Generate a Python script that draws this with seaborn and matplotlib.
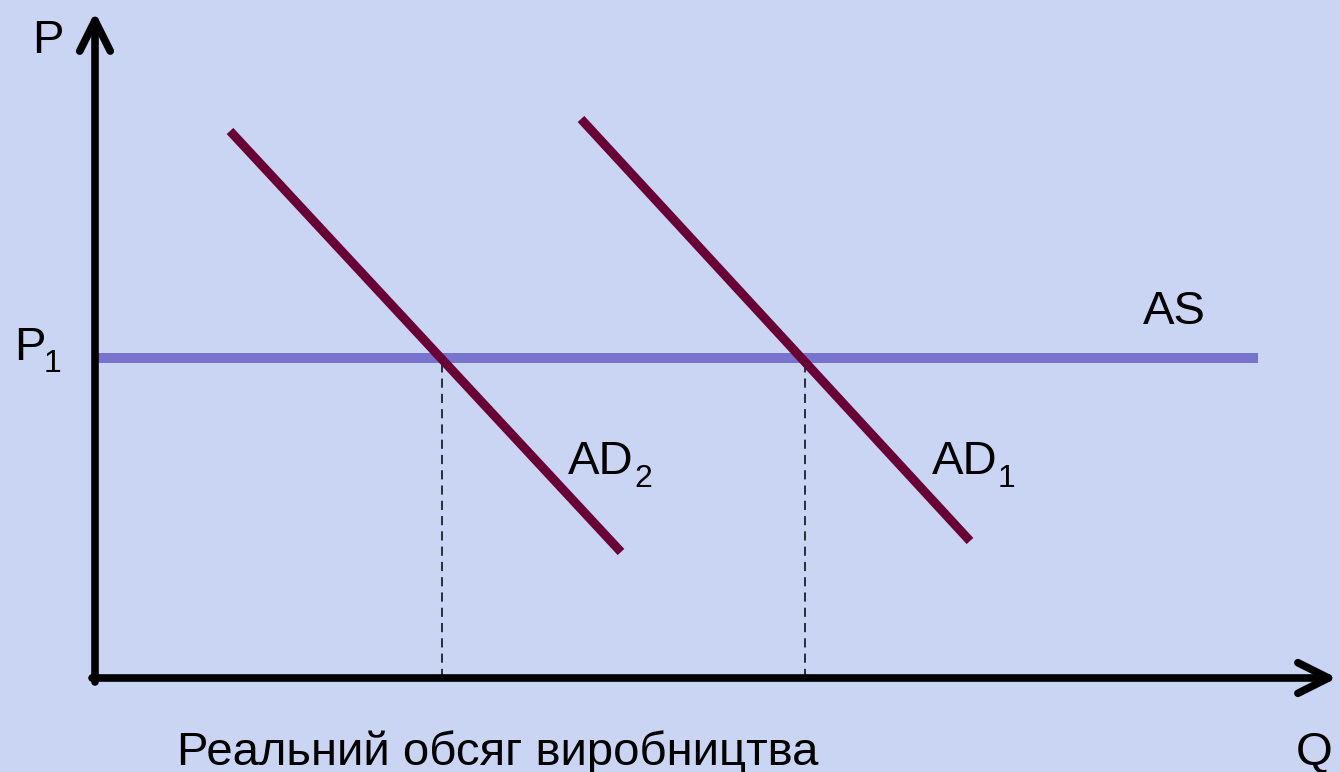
import matplotlib
matplotlib.use("Agg")
import matplotlib.pyplot as plt
import seaborn as sns
import pandas as pd

sns.set_theme(style="white")
plt.rcParams['font.family'] = ['Liberation Sans', 'DejaVu Sans']
plt.rcParams['text.color'] = 'black'

# ---- data (economic units: Q horizontal, P vertical) ----
ad1_q = [4.86, 8.75]
ad1_p = [5.59, 1.37]
ad2_q = [1.35, 5.26]
ad2_p = [5.47, 1.26]
as_q = [0.0, 11.63]
as_p = [3.20, 3.20]
q_equil = [3.47, 7.10]   # Q2, Q1
p_level = 3.20
q_axis_end = 12.42
p_axis_end = 6.66

df_ad1 = pd.DataFrame({"Q": ad1_q, "P": ad1_p})
df_ad2 = pd.DataFrame({"Q": ad2_q, "P": ad2_p})
df_as = pd.DataFrame({"Q": as_q, "P": as_p})

bg = "#c9d5f2"
fig = plt.figure(figsize=(13.4, 7.72), dpi=100)
fig.patch.set_facecolor(bg)
ax = fig.add_axes([0, 0, 1, 1])
ax.set_facecolor(bg)
ax.set_xlim(-0.95, 12.45)
ax.set_ylim(-0.94, 6.78)
ax.axis("off")

# dashed guides
for q in q_equil:
    ax.plot([q, q], [0, p_level], color="black", lw=1.1, ls=(0, (6, 4)), zorder=2)

# AS line
sns.lineplot(data=df_as, x="Q", y="P", ax=ax, color="#7773cf", lw=7.2,
             solid_capstyle="butt", zorder=3)
# AD lines
sns.lineplot(data=df_ad2, x="Q", y="P", ax=ax, color="#690035", lw=6.5,
             solid_capstyle="butt", zorder=4)
sns.lineplot(data=df_ad1, x="Q", y="P", ax=ax, color="#690035", lw=6.5,
             solid_capstyle="butt", zorder=4)

# axes with arrows
arrow_kw = dict(arrowstyle="->,head_length=2.2,head_width=1.1", lw=5.5,
                color="black", shrinkA=0, shrinkB=0, mutation_scale=10,
                capstyle="round", joinstyle="round")
ax.annotate("", xy=(0, p_axis_end), xytext=(0, -0.04), arrowprops=arrow_kw, zorder=5)
ax.annotate("", xy=(q_axis_end, 0), xytext=(-0.03, 0), arrowprops=arrow_kw, zorder=5)

fs = 34
sub_fs = 23
tc = "black"
ax.text(-0.63, 6.25, "P", fontsize=fs, ha="left", va="baseline", color=tc)
ax.text(-0.81, 3.18, "P", fontsize=fs, ha="left", va="baseline", color=tc)
ax.text(-0.51, 3.06, "1", fontsize=sub_fs, ha="left", va="baseline", color=tc)
ax.text(10.48, 3.54, "AS", fontsize=fs, ha="left", va="baseline", color=tc)
ax.text(4.73, 2.04, "AD", fontsize=fs, ha="left", va="baseline", color=tc)
ax.text(5.39, 1.91, "2", fontsize=sub_fs, ha="left", va="baseline", color=tc)
ax.text(8.37, 2.04, "AD", fontsize=fs, ha="left", va="baseline", color=tc)
ax.text(9.03, 1.91, "1", fontsize=sub_fs, ha="left", va="baseline", color=tc)
ax.text(0.82, -0.87, "Реальний обсяг виробництва", fontsize=fs, ha="left",
        va="baseline", color=tc)
ax.text(12.01, -0.87, "Q", fontsize=fs, ha="left", va="baseline", color=tc)

fig.savefig("out.png", dpi=100, facecolor=fig.get_facecolor())
